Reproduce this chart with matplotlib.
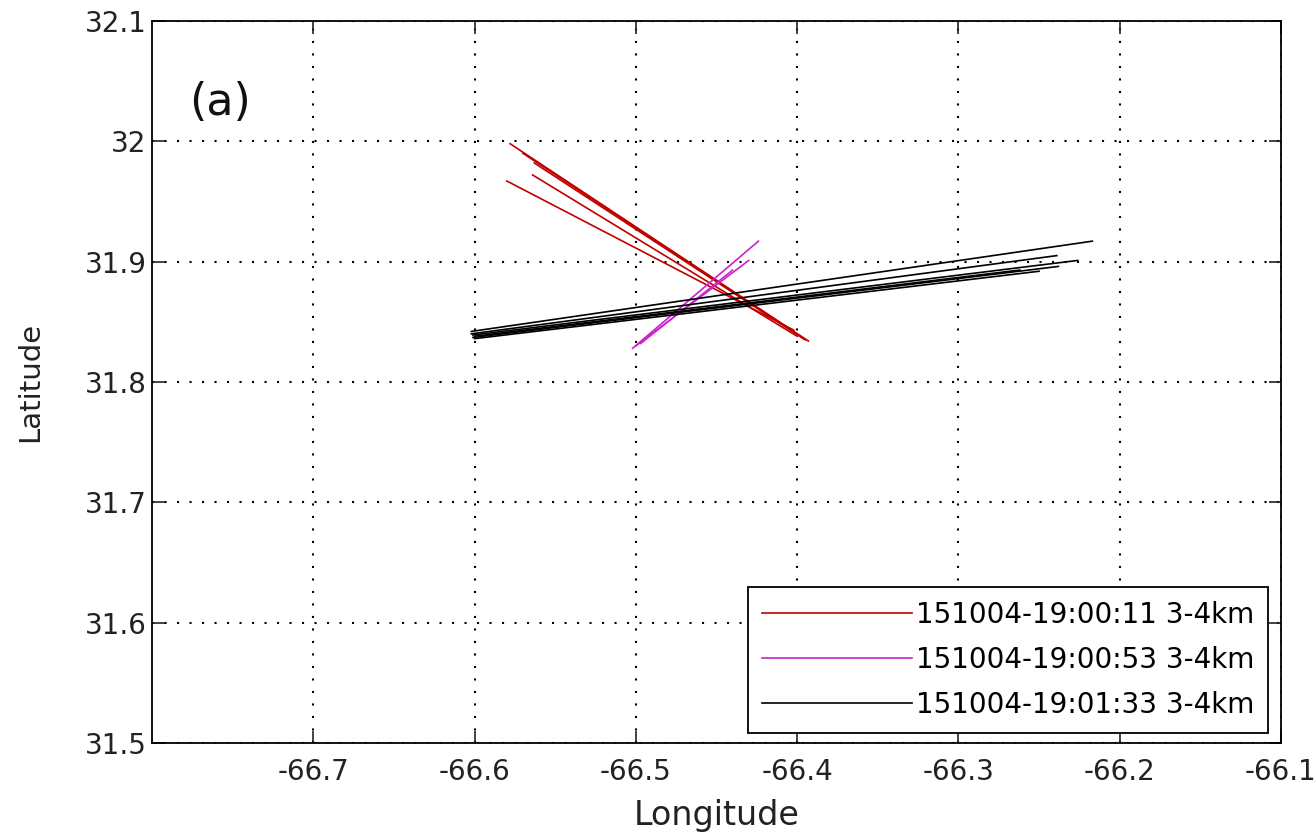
import numpy as np
import matplotlib.pyplot as plt

# beam segments: start/end lon-lat for each scan
red_lon0 = [-66.578, -66.563, -66.564, -66.580, -66.570]
red_lat0 = [31.998, 31.982, 31.972, 31.967, 31.990]
red_lon1 = [-66.393, -66.396, -66.400, -66.402, -66.395]
red_lat1 = [31.834, 31.836, 31.838, 31.843, 31.835]

mag_lon0 = [-66.502, -66.500, -66.497]
mag_lat0 = [31.828, 31.830, 31.832]
mag_lon1 = [-66.424, -66.430, -66.440]
mag_lat1 = [31.917, 31.901, 31.893]

blk_lon0 = [-66.602, -66.602, -66.601, -66.601, -66.600, -66.600]
blk_lat0 = [31.842, 31.840, 31.839, 31.837, 31.836, 31.838]
blk_lon1 = [-66.217, -66.239, -66.226, -66.238, -66.250, -66.262]
blk_lat1 = [31.917, 31.905, 31.901, 31.896, 31.892, 31.893]

labels = ["151004-19:00:11 3-4km", "151004-19:00:53 3-4km", "151004-19:01:33 3-4km"]
colors = ["#c00000", "#cc22cc", "black"]

xticks = [-66.7, -66.6, -66.5, -66.4, -66.3, -66.2, -66.1]
yticks = [31.5, 31.6, 31.7, 31.8, 31.9, 32.0, 32.1]
ytick_labels = ["31.5", "31.6", "31.7", "31.8", "31.9", "32", "32.1"]

plt.rcParams['font.family'] = ['DejaVu Sans']
fig = plt.figure(figsize=(13.16, 8.38), dpi=100)
ax = fig.add_axes([0.1155, 0.1134, 0.8579, 0.8616])

groups = [(red_lon0, red_lat0, red_lon1, red_lat1),
          (mag_lon0, mag_lat0, mag_lon1, mag_lat1),
          (blk_lon0, blk_lat0, blk_lon1, blk_lat1)]
for g, (lo0, la0, lo1, la1) in enumerate(groups):
    for i in range(len(lo0)):
        ax.plot([lo0[i], lo1[i]], [la0[i], la1[i]], color=colors[g], lw=1.2,
                label=labels[g] if i == 0 else None)

ax.set_xlim(-66.8, -66.1)
ax.set_ylim(31.5, 32.1)
ax.set_xticks(xticks)
ax.set_xticklabels(["%.1f" % v for v in xticks])
ax.set_yticks(yticks)
ax.set_yticklabels(ytick_labels)
ax.tick_params(direction='in', length=9, width=1.2, top=True, right=True,
               labelsize=20, colors='#222222')
ax.tick_params(axis='x', pad=11)
ax.tick_params(axis='y', pad=4)
for s in ax.spines.values():
    s.set_linewidth(1.3)
ax.grid(True, color='black', linestyle=(0, (1, 5)), linewidth=1.5)

ax.set_xlabel("Longitude", fontsize=24, color='#222222', labelpad=9)
ax.set_ylabel("Latitude", fontsize=21, color='#222222', labelpad=29)
ax.text(-66.777, 32.032, "(a)", fontsize=32, va='center', ha='left', color='#111111')

leg = ax.legend(loc='lower right', bbox_to_anchor=(0.9885, 0.0139), borderaxespad=0,
                fontsize=20, fancybox=False, framealpha=1, edgecolor='black',
                handlelength=5.4, handletextpad=0.15, labelspacing=0.62,
                borderpad=0.5)
leg.get_frame().set_linewidth(1.3)

fig.savefig("out.png", dpi=100)
